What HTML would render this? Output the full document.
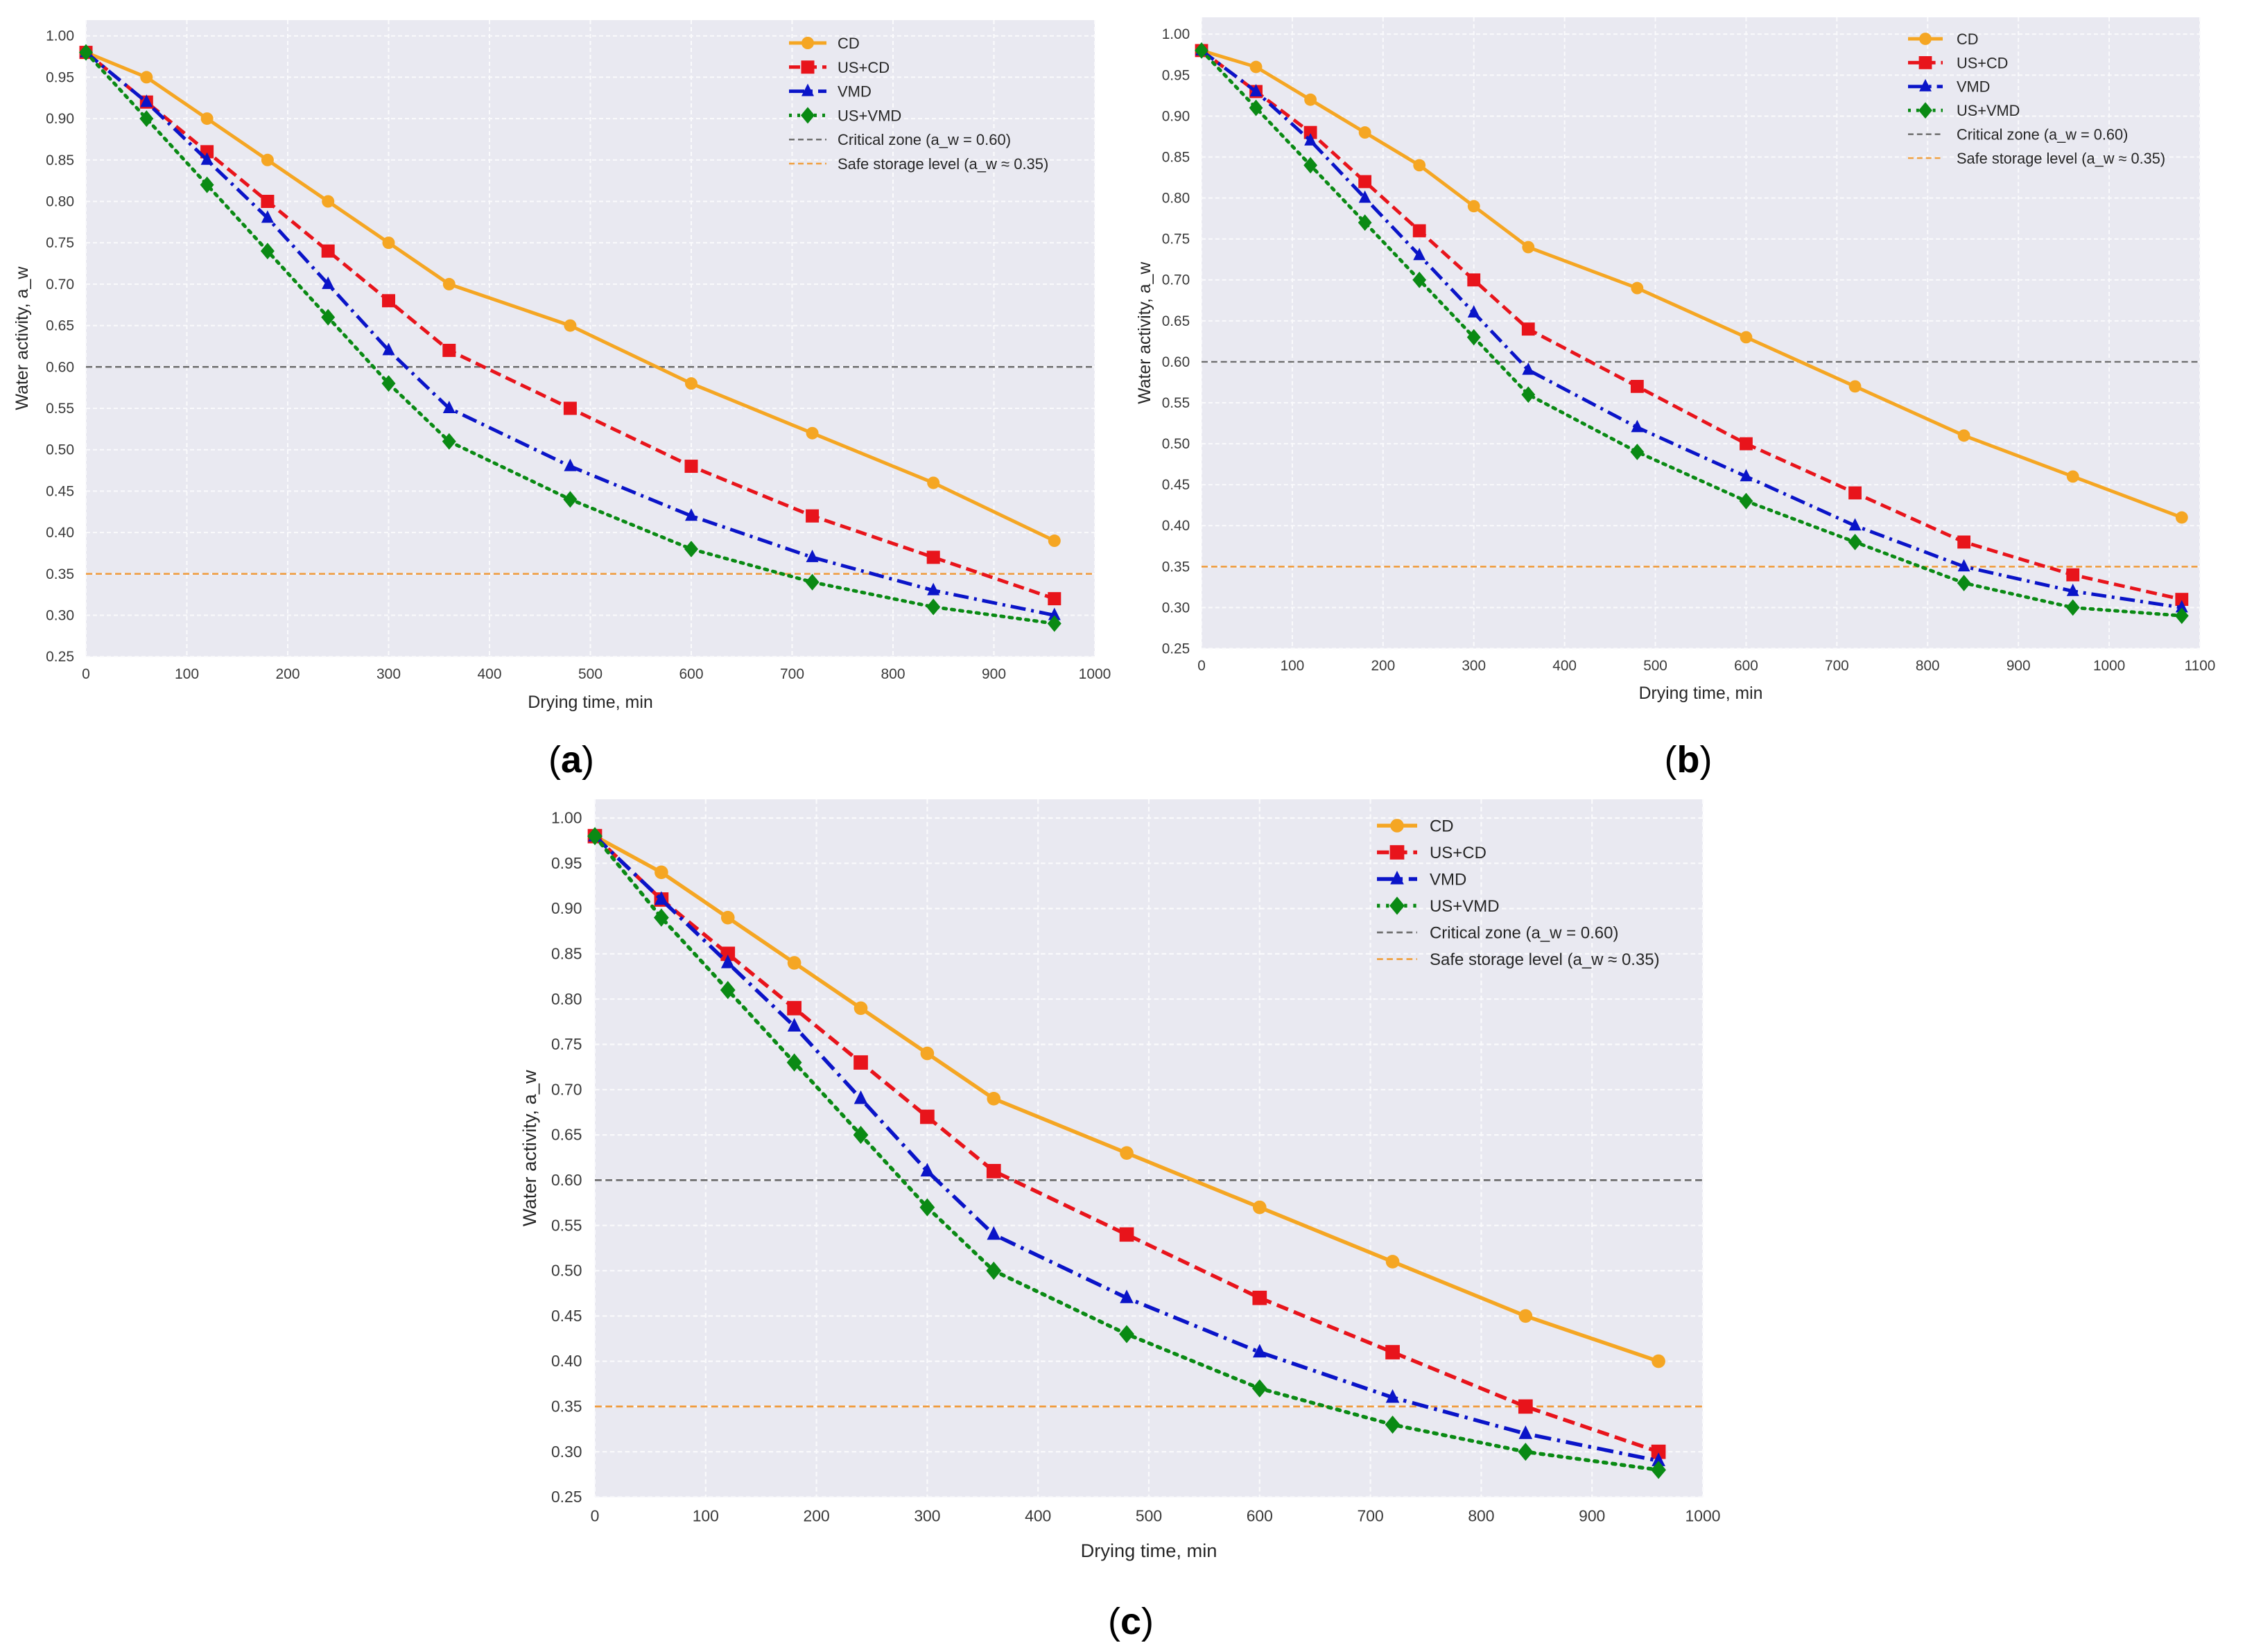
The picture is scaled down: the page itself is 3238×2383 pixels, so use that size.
<!DOCTYPE html>
<html><head><meta charset="utf-8">
<style>
html,body{margin:0;padding:0;background:#fff;}
svg{display:block;}
text{font-family:"Liberation Sans",sans-serif;}
</style></head>
<body>
<svg id="fig" width="3238" height="2383" viewBox="0 0 3238 2383" xmlns="http://www.w3.org/2000/svg"></svg>
<script>
// ---- data ----
const timesA = [0,60,120,180,240,300,360,480,600,720,840,960];
const cdA    = [.98,.95,.90,.85,.80,.75,.70,.65,.58,.52,.46,.39];
const usCdA  = [.98,.92,.86,.80,.74,.68,.62,.55,.48,.42,.37,.32];
const vmdA   = [.98,.92,.85,.78,.70,.62,.55,.48,.42,.37,.33,.30];
const usVmdA = [.98,.90,.82,.74,.66,.58,.51,.44,.38,.34,.31,.29];

const timesB = [0,60,120,180,240,300,360,480,600,720,840,960,1080];
const cdB    = [.98,.96,.92,.88,.84,.79,.74,.69,.63,.57,.51,.46,.41];
const usCdB  = [.98,.93,.88,.82,.76,.70,.64,.57,.50,.44,.38,.34,.31];
const vmdB   = [.98,.93,.87,.80,.73,.66,.59,.52,.46,.40,.35,.32,.30];
const usVmdB = [.98,.91,.84,.77,.70,.63,.56,.49,.43,.38,.33,.30,.29];

const timesC = [0,60,120,180,240,300,360,480,600,720,840,960];
const cdC    = [.98,.94,.89,.84,.79,.74,.69,.63,.57,.51,.45,.40];
const usCdC  = [.98,.91,.85,.79,.73,.67,.61,.54,.47,.41,.35,.30];
const vmdC   = [.98,.91,.84,.77,.69,.61,.54,.47,.41,.36,.32,.29];
const usVmdC = [.98,.89,.81,.73,.65,.57,.50,.43,.37,.33,.30,.28];

const yTicks = [0.25,0.30,0.35,0.40,0.45,0.50,0.55,0.60,0.65,0.70,0.75,0.80,0.85,0.90,0.95,1.00];
const xTicksA = [0,100,200,300,400,500,600,700,800,900,1000];
const xTicksB = [0,100,200,300,400,500,600,700,800,900,1000,1100];
const criticalLevel = 0.60;
const safeLevel = 0.35;
const seriesNames = ["CD","US+CD","VMD","US+VMD"];

// ---- layout ----
const NS="http://www.w3.org/2000/svg";
const svg=document.getElementById('fig');
function mk(tag,attrs,parent){const e=document.createElementNS(NS,tag);for(const k in attrs)e.setAttribute(k,attrs[k]);(parent||svg).appendChild(e);return e;}

const styles=[
 {color:"#f5a623",dash:"",marker:"circle"},
 {color:"#e8141b",dash:"dash",marker:"square"},
 {color:"#0a14c8",dash:"dashdot",marker:"triangle"},
 {color:"#0a8a14",dash:"dot",marker:"diamond"}
];

function marker(g,type,cx,cy,s,color){
  let m;
  if(type==="circle") m=mk('circle',{cx:cx,cy:cy,r:9*s,fill:color},g);
  else if(type==="square") m=mk('rect',{x:cx-9.5*s,y:cy-9.5*s,width:19*s,height:19*s,fill:color},g);
  else if(type==="triangle") m=mk('polygon',{points:`${cx},${cy-11*s} ${cx-9*s},${cy+7*s} ${cx+9*s},${cy+7*s}`,fill:color},g);
  else m=mk('polygon',{points:`${cx},${cy-12*s} ${cx+10*s},${cy} ${cx},${cy+12*s} ${cx-10*s},${cy}`,fill:color},g);
  return m;
}
function dashFor(d,s){
  if(d==="dash") return `${16*s} ${8*s}`;
  if(d==="dashdot") return `${22*s} ${8*s} ${4*s} ${8*s}`;
  if(d==="dot") return `${4*s} ${8*s}`;
  return "";
}

function panel(p){
  const g=mk('g',{});
  
  
  const s=p.s;
  const X=v=>p.left+v/p.xmax*(p.right-p.left);
  const Y=v=>p.y1+(1-v)*p.k;
  const bottom=Y(0.25);
  const bg=mk('rect',{x:p.left,y:p.top,width:p.right-p.left,height:bottom-p.top,fill:"#e9e9f1"},g);
  
  
  p.xticks.forEach(t=>{
    const l=mk('line',{x1:X(t),x2:X(t),y1:p.top,y2:bottom,stroke:"#fafafc","stroke-width":2*s,"stroke-dasharray":`${6*s} ${4*s}`},g);
    
    
    const tx=mk('text',{x:X(t),y:bottom+32*s,"text-anchor":"middle","font-size":21*s,fill:"#3a3a3a"},g);
    tx.textContent=t;
    
    
  });
  yTicks.forEach(t=>{
    const l=mk('line',{x1:p.left,x2:p.right,y1:Y(t),y2:Y(t),stroke:"#fafafc","stroke-width":2*s,"stroke-dasharray":`${6*s} ${4*s}`},g);
    
    
    const tx=mk('text',{x:p.left-17*s,y:Y(t)+7*s,"text-anchor":"end","font-size":21*s,fill:"#3a3a3a"},g);
    tx.textContent=t.toFixed(2);
    
    
  });
  const cl=mk('line',{x1:p.left,x2:p.right,y1:Y(criticalLevel),y2:Y(criticalLevel),stroke:"#6e6e6e","stroke-width":2.5*s,"stroke-dasharray":`${9*s} ${5*s}`},g);
  
  
  const sl=mk('line',{x1:p.left,x2:p.right,y1:Y(safeLevel),y2:Y(safeLevel),stroke:"#f09a3a","stroke-width":2.5*s,"stroke-dasharray":`${9*s} ${5*s}`},g);
  
  
  p.series.forEach((vals,i)=>{
    const st=styles[i];
    const sg=mk('g',{},g);
    
    
    const pts=vals.map((v,j)=>`${X(p.times[j])},${Y(v)}`).join(' ');
    const pl=mk('polyline',{points:pts,fill:"none",stroke:st.color,"stroke-width":5*s,"stroke-linecap":st.dash==="dot"?"round":"butt","stroke-linejoin":"round"},sg);
    const da=dashFor(st.dash,s); if(da) pl.setAttribute('stroke-dasharray',da);
    
    
    vals.forEach((v,j)=>{
      const m=marker(sg,st.marker,X(p.times[j]),Y(v),s,st.color);
      
      
    });
  });
  const lg=mk('g',{},g);
  
  
  const labels=["CD","US+CD","VMD","US+VMD","Critical zone (a_w = 0.60)","Safe storage level (a_w \u2248 0.35)"];
  labels.forEach((lab,i)=>{
    const yy=p.legY+i*p.legStep;
    const x1=p.legX, x2=p.legX+p.legW;
    if(i<4){
      const st=styles[i];
      const l=mk('line',{x1:x1,x2:x2,y1:yy,y2:yy,stroke:st.color,"stroke-width":5*s},lg);
      const da=dashFor(st.dash,s); if(da) l.setAttribute('stroke-dasharray',da);
      
      
      const m=marker(lg,st.marker,(x1+x2)/2,yy,s,st.color);
      
      
    } else {
      const l=mk('line',{x1:x1,x2:x2,y1:yy,y2:yy,stroke:i===4?"#6e6e6e":"#f0a040","stroke-width":2.5*s,"stroke-dasharray":`${8*s} ${5*s}`},lg);
      
      
    }
    const t=mk('text',{x:p.legText,y:yy+8*s,"font-size":22*s,fill:"#262626"},lg);
    t.textContent=lab;
    
    
  });
  const xt=mk('text',{x:(p.left+p.right)/2,y:p.xlabY,"text-anchor":"middle","font-size":25*s,fill:"#262626"},g);
  xt.textContent="Drying time, min";
  
  
  const yt=mk('text',{x:0,y:0,"text-anchor":"middle","font-size":25*s,fill:"#262626",transform:`translate(${p.ylabX},${(p.top+bottom)/2}) rotate(-90)`},g);
  yt.textContent="Water activity, a_w";
  
  
  const cap=mk('text',{x:p.capX,y:p.capY,"text-anchor":"middle","font-size":54,fill:"#000","font-family":"Liberation Serif, serif"},svg);
  cap.innerHTML=`(<tspan font-weight="bold">${p.id}</tspan>)`;
  
  
}

panel({id:"a",left:124,right:1579,top:29,y1:51.7,k:1194,xmax:1000,s:1,xticks:xTicksA,
  times:timesA,series:[cdA,usCdA,vmdA,usVmdA],
  legX:1138,legW:54,legText:1208,legY:62,legStep:34.8,xlabY:1021,ylabX:40,capX:824,capY:1114});
panel({id:"b",left:1733,right:3173,top:25,y1:49.3,k:1181.6,xmax:1100,s:0.99,xticks:xTicksB,
  times:timesB,series:[cdB,usCdB,vmdB,usVmdB],
  legX:2752,legW:50,legText:2822,legY:56,legStep:34.4,xlabY:1008,ylabX:1659,capX:2435,capY:1114});
panel({id:"c",left:858,right:2456,top:1153,y1:1180,k:1306,xmax:1000,s:1.09,xticks:xTicksA,
  times:timesC,series:[cdC,usCdC,vmdC,usVmdC],
  legX:1986,legW:58,legText:2062,legY:1191,legStep:38.5,xlabY:2246,ylabX:773,capX:1631,capY:2357});
</script>
</body></html>
